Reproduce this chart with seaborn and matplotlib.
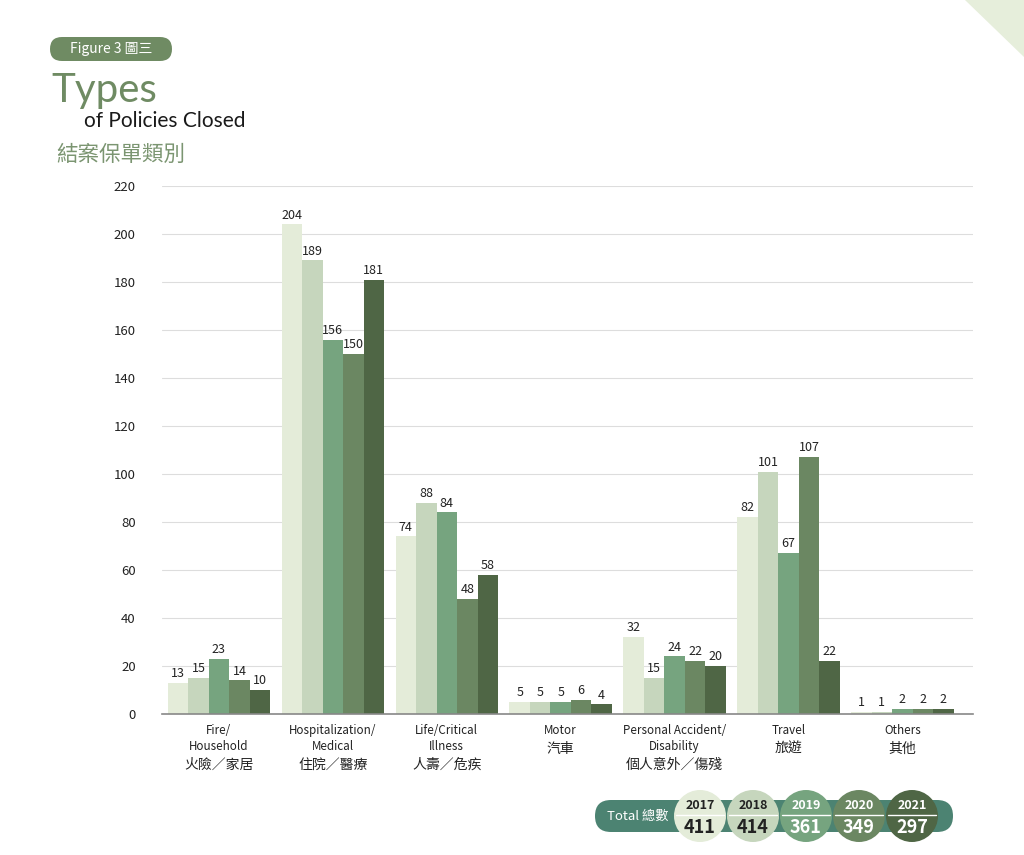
import numpy as np
import pandas as pd
import matplotlib
matplotlib.use("Agg")
import matplotlib.pyplot as plt
import seaborn as sns
from matplotlib.patches import FancyBboxPatch, Circle, Polygon

# ---------------- data ----------------
categories_en = ["Fire/\nHousehold",
                 "Hospitalization/\nMedical",
                 "Life/Critical\nIllness",
                 "Motor",
                 "Personal Accident/\nDisability",
                 "Travel",
                 "Others"]
categories_zh = ["火險／家居", "住院／醫療", "人壽／危疾", "汽車",
                 "個人意外／傷殘", "旅遊", "其他"]
years = ["2017", "2018", "2019", "2020", "2021"]
v2017 = [13, 204, 74, 5, 32, 82, 1]
v2018 = [15, 189, 88, 5, 15, 101, 1]
v2019 = [23, 156, 84, 5, 24, 67, 2]
v2020 = [14, 150, 48, 6, 22, 107, 2]
v2021 = [10, 181, 58, 4, 20, 22, 2]
totals = [411, 414, 361, 349, 297]
yticks = [0, 20, 40, 60, 80, 100, 120, 140, 160, 180, 200, 220]

colors = ["#e4ecd9", "#c6d6bd", "#76a47f", "#6b8762", "#4f6645"]

series = [v2017, v2018, v2019, v2020, v2021]
df = pd.DataFrame({
    "category": np.repeat([categories_en], len(years), axis=0).ravel(),
    "year": np.repeat(years, len(categories_en)),
    "value": np.concatenate(series),
})

sns.set_theme(style="white")
plt.rcParams["font.family"] = ["Noto Sans CJK TC", "DejaVu Sans"]

fig = plt.figure(figsize=(10.24, 8.55), dpi=100)
ax = fig.add_axes([162 / 1024, 1 - 714 / 855, (973 - 162) / 1024, (714 - 186) / 855])

sns.barplot(data=df, x="category", y="value", hue="year", palette=colors,
            width=0.9, gap=0, saturation=1, ax=ax, legend=False,
            linewidth=0, edgecolor="none")

for cont in ax.containers:
    ax.bar_label(cont, padding=2, fontsize=9, color="#222222")

ax.set_ylim(0, 220)
ax.set_xlim(-0.5, 6.62)
ax.set_yticks(yticks)
ax.set_yticklabels([str(t) for t in yticks], fontsize=9.5, color="#222222")
ax.yaxis.grid(True, color="#dddddd", linewidth=0.8)
ax.set_axisbelow(True)
ax.set_xlabel("")
ax.set_ylabel("")
for s in ["left", "right", "top"]:
    ax.spines[s].set_visible(False)
ax.spines["bottom"].set_color("#888888")
ax.spines["bottom"].set_linewidth(1.2)
ax.spines["bottom"].set_zorder(5)
ax.tick_params(axis="y", length=0, pad=19)
ax.tick_params(axis="x", length=0, pad=7)
ax.set_xticks(range(len(categories_en)))
ax.set_xticklabels(categories_en, fontsize=8.4, color="#222222", linespacing=1.3, va="top")

for lab, zh in zip(ax.get_xticklabels(), categories_zh):
    ax.annotate(zh, xy=(0.5, 0), xycoords=lab, xytext=(0, -3.5),
                textcoords="offset points", ha="center", va="top",
                fontsize=10, color="#222222", annotation_clip=False)

# ---------------- decoration overlay (pixel coordinates) ----------------
ov = fig.add_axes([0, 0, 1, 1])
ov.set_xlim(0, 1024)
ov.set_ylim(855, 0)
ov.axis("off")
ov.patch.set_alpha(0)

# top-right triangle
ov.add_patch(Polygon([[965, 0], [1024, 0], [1024, 57]], closed=True,
                     facecolor="#e6eedb", edgecolor="none"))

# Figure badge
ov.add_patch(FancyBboxPatch((50, 37), 122, 24, boxstyle="round,pad=0,rounding_size=12",
                            facecolor="#6f8b63", edgecolor="none"))
ov.text(111, 49.5, "Figure 3 圖三", color="white", fontsize=10, ha="center", va="center",
        fontweight="medium")
ov.text(51, 102, "Types", color="#6f8b63", fontsize=29, ha="left", va="baseline",
        family=["Lato", "DejaVu Sans"])
ov.text(84, 127, "of Policies Closed", color="#1a1a1a", fontsize=15, ha="left", va="baseline",
        family=["Lato", "DejaVu Sans"])
ov.text(56, 161, "結案保單類別", color="#7b9571", fontsize=15.5, ha="left", va="baseline")

# totals bar
ov.add_patch(FancyBboxPatch((595, 800), 358, 32, boxstyle="round,pad=0,rounding_size=16",
                            facecolor="#4c8372", edgecolor="none"))
ov.text(638, 816, "Total 總數", color="white", fontsize=9.5, ha="center", va="center")
cx = [700, 753, 806, 859, 912]
for x, yr, tot, col in zip(cx, years, totals, colors):
    ov.add_patch(Circle((x, 816), 26, facecolor=col, edgecolor="none"))
    tc = "#222222" if yr in ("2017", "2018") else "white"
    ov.plot([x - 24, x + 24], [815, 815], color="white", linewidth=1)
    ov.text(x, 805, yr, color=tc, fontsize=9, fontweight="bold", ha="center", va="center")
    ov.text(x, 827, str(tot), color=tc, fontsize=13, fontweight="bold", ha="center", va="center")

fig.savefig("out.png", dpi=100)
